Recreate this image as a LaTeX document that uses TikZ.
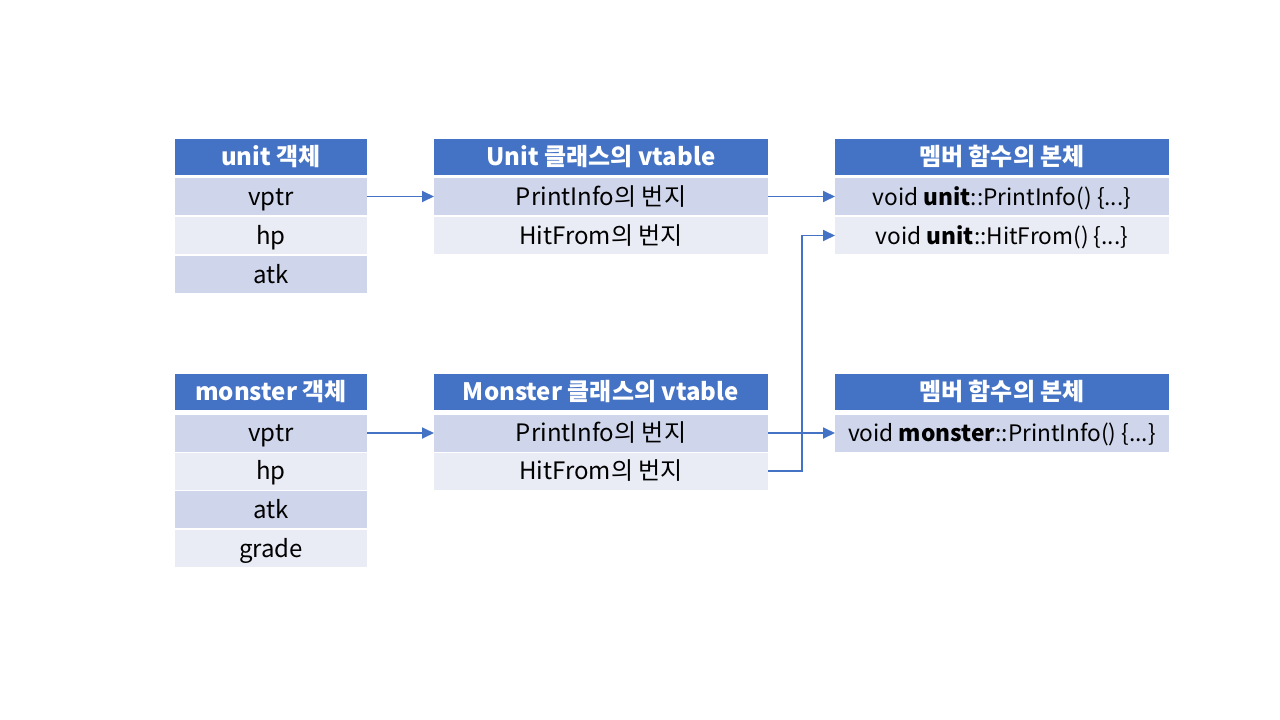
\documentclass[tikz,border=0pt]{standalone}
\usepackage{fontspec}
\setmainfont{Noto Sans CJK KR}
\newfontfamily\kr{Noto Sans CJK KR}
\usetikzlibrary{arrows.meta}
\definecolor{hblue}{HTML}{4472C4}
\definecolor{rdark}{HTML}{CFD5EA}
\definecolor{rlight}{HTML}{E9EBF5}
\tikzset{
  cell/.style={inner sep=0pt, outer sep=0pt, minimum height=37pt, text height=19pt, text depth=2pt,
    font=\fontsize{24}{26}\selectfont, text=black},
  hdr/.style={cell, fill=hblue, minimum height=36pt, text=white, font=\fontsize{24}{26}\selectfont\bfseries},
  rowa/.style={cell, fill=rdark},
  rowb/.style={cell, fill=rlight},
  fn/.style={font=\fontsize{22.7}{25}\selectfont},
  narrow/.style={minimum width=192pt},
  wide/.style={minimum width=334pt},
  arr/.style={draw=hblue, line width=1.8pt, -{Triangle[length=12pt,width=11pt]}}
}
\begin{document}
\begin{tikzpicture}[x=1pt,y=-1pt]
\useasboundingbox (0,0) rectangle (1280,720);
% unit object
\node[hdr,narrow] (uh) at (271,157) {unit {\kr 객체}};
\node[rowa,narrow] (u1) at (271,196.5) {vptr};
\node[rowb,narrow] (u2) at (271,235.5) {hp};
\node[rowa,narrow] (u3) at (271,274.5) {atk};
% unit vtable
\node[hdr,wide] (vh) at (601,157) {Unit {\kr 클래스의} vtable};
\node[rowa,wide] (v1) at (601,196.5) {PrintInfo{\kr 의 번지}};
\node[rowb,wide] (v2) at (601,235.5) {HitFrom{\kr 의 번지}};
% unit functions
\node[hdr,wide] (fh) at (1002,157) {\kr 멤버 함수의 본체};
\node[rowa,wide,fn] (f1) at (1002,196.5) {void \textbf{unit}::PrintInfo() \{...\}};
\node[rowb,wide,fn] (f2) at (1002,235.5) {void \textbf{unit}::HitFrom() \{...\}};
% monster object
\node[hdr,narrow] (mh) at (271,392) {monster {\kr 객체}};
\node[rowa,narrow] (m1) at (271,433) {vptr};
\node[rowb,narrow] (m2) at (271,471) {hp};
\node[rowa,narrow] (m3) at (271,509.5) {atk};
\node[rowb,narrow] (m4) at (271,548.5) {grade};
% monster vtable
\node[hdr,wide] (mvh) at (601,392) {Monster {\kr 클래스의} vtable};
\node[rowa,wide] (mv1) at (601,433) {PrintInfo{\kr 의 번지}};
\node[rowb,wide] (mv2) at (601,471) {HitFrom{\kr 의 번지}};
% monster functions
\node[hdr,wide] (mfh) at (1002,392) {\kr 멤버 함수의 본체};
\node[rowa,wide,fn] (mf1) at (1002,433) {void \textbf{monster}::PrintInfo() \{...\}};
% arrows
\draw[arr] (u1.east) -- (v1.west);
\draw[arr] (v1.east) -- (f1.west);
\draw[arr] (m1.east) -- (mv1.west);
\draw[arr] (mv1.east) -- (mf1.west);
\draw[arr] (mv2.east) -- ++(34,0) |- (f2.west);
\end{tikzpicture}
\end{document}
